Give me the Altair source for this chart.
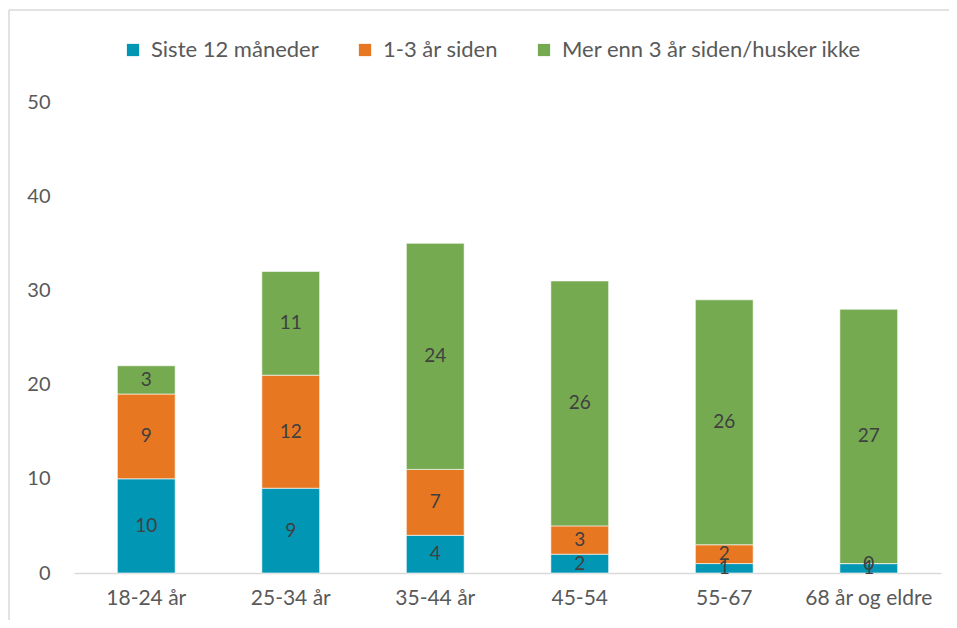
import altair as alt
import pandas as pd

categories = ["18-24 år", "25-34 år", "35-44 år", "45-54", "55-67", "68 år og eldre"]
series = ["Siste 12 måneder", "1-3 år siden", "Mer enn 3 år siden/husker ikke"]
siste12 = [10, 9, 4, 2, 1, 1]
aar1_3 = [9, 12, 7, 3, 2, 0]
mer3 = [3, 11, 24, 26, 26, 27]
colors = ["#0096B4", "#E87722", "#75AA50"]

rows = []
for i, c in enumerate(categories):
    start = 0
    for j, (s, vals) in enumerate(zip(series, [siste12, aar1_3, mer3])):
        v = vals[i]
        rows.append({"cat": c, "series": s, "order": j, "value": v,
                     "start": start, "end": start + v, "mid": start + v / 2})
        start += v
df = pd.DataFrame(rows)

W, H = 867, 471
FONT = "Lato"

base = alt.Chart(df)

xenc = alt.X("cat:N", sort=categories, title=None,
             scale=alt.Scale(paddingInner=0.6, paddingOuter=0.3),
             axis=alt.Axis(labelAngle=0, labelFontSize=21, labelColor="#595959",
                           labelFont=FONT, labelPadding=14, ticks=False,
                           domainColor="#D9D9D9", domainWidth=1.5, grid=False))
yscale = alt.Scale(domain=[0, 50], nice=False)

bars = base.mark_bar(stroke="white", strokeWidth=0.6).encode(
    x=xenc,
    y=alt.Y("end:Q", scale=yscale, title=None,
            axis=alt.Axis(values=[0, 10, 20, 30, 40, 50], grid=False, domain=False,
                          ticks=False, labelFontSize=20, labelColor="#595959",
                          labelFont=FONT, labelPadding=24)),
    y2="start:Q",
    color=alt.Color("series:N", sort=series,
                    scale=alt.Scale(domain=series, range=colors),
                    legend=alt.Legend(title=None, orient="none", direction="horizontal",
                                      legendX=48, legendY=-63, symbolType="square",
                                      symbolSize=150, symbolStrokeWidth=0,
                                      labelFontSize=22, labelFont=FONT, labelLimit=500,
                                      labelColor="#595959", columnPadding=35,
                                      labelOffset=7, padding=0)),
    order="order:Q",
)

texts = base.mark_text(fontSize=19, font=FONT, color="#404040").encode(
    x=alt.X("cat:N", sort=categories),
    y=alt.Y("mid:Q", scale=yscale),
    text="value:Q",
)

frame = alt.Data(values=[{"a": 1}])
top_edge = alt.Chart(frame).mark_rule(stroke="#D9D9D9", strokeWidth=1.5).encode(
    x=alt.value(-65), x2=alt.value(W + 100), y=alt.value(-92),
)
left_edge = alt.Chart(frame).mark_rule(stroke="#D9D9D9", strokeWidth=1.5).encode(
    x=alt.value(-65), y=alt.value(-92), y2=alt.value(H + 100),
)

chart = alt.layer(top_edge, left_edge, bars, texts).properties(
    width=W, height=H,
    autosize=alt.AutoSizeParams(type="none"),
    padding={"left": 66, "top": 94, "right": 8, "bottom": 47},
).configure(font=FONT).configure_view(stroke="transparent", strokeWidth=0)

chart.save("out.html", embed_options={"renderer": "svg", "actions": False})
